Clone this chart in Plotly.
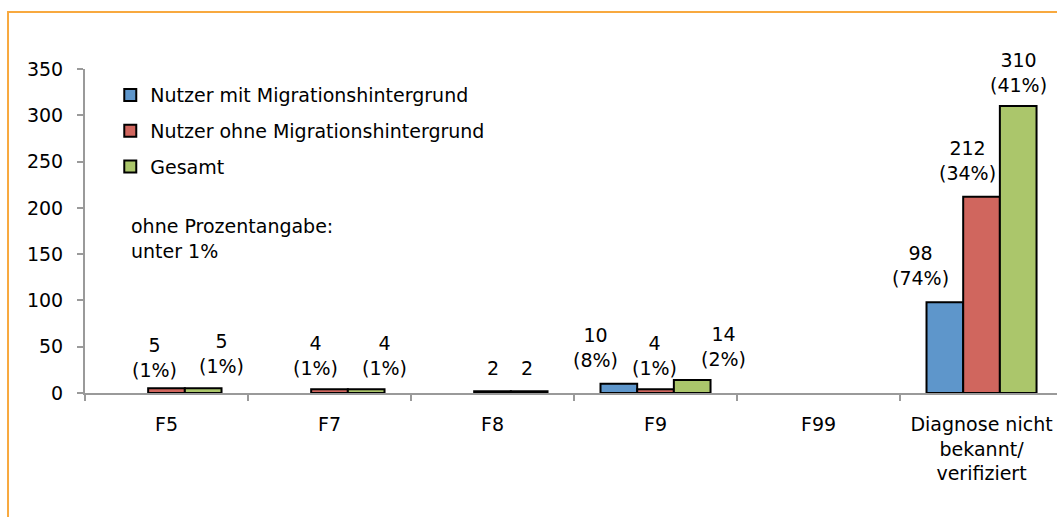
import plotly.graph_objects as go

categories = ["F5", "F7", "F8", "F9", "F99", "Diagnose nicht<br>bekannt/<br>verifiziert"]
series_names = ["Nutzer mit Migrationshintergrund", "Nutzer ohne Migrationshintergrund", "Gesamt"]
mit = [0, 0, 0, 10, 0, 98]
ohne = [5, 4, 2, 4, 0, 212]
gesamt = [5, 4, 2, 14, 0, 310]
pct_mit = [None, None, None, "8%", None, "74%"]
pct_ohne = ["1%", "1%", None, "1%", None, "34%"]
pct_gesamt = ["1%", "1%", None, "2%", None, "41%"]
y_ticks = [0, 50, 100, 150, 200, 250, 300, 350]
note_text = "ohne Prozentangabe:<br>unter 1%"

# styling
colors = ["#5E96CB", "#D0665E", "#ABC66B"]
FONT = "DejaVu Sans"
FS = 19
BARGAP = 0.325
# per-label pixel nudges (dx, dy) mimicking the original label placement
label_nudge = [
    [(0, 0), (0, 0), (0, 0), (-23, 36), (0, 0), (-24, 37)],
    [(-12, 31), (-14, 34), (0, 23), (-1, 34), (0, 0), (-14, 36)],
    [(18, 35), (18, 34), (-2, 23), (31, 34), (0, 0), (0, 34)],
]

values = [mit, ohne, gesamt]
pcts = [pct_mit, pct_ohne, pct_gesamt]

fig = go.Figure()
for k in range(3):
    fig.add_trace(go.Bar(
        x=categories, y=[v if v else None for v in values[k]], name=series_names[k],
        marker=dict(color=colors[k], line=dict(color="black", width=2)),
        legendgroup=str(k), hoverinfo="x+y",
    ))

barw = (1 - BARGAP) / 3
annotations = []
for k in range(3):
    for i, v in enumerate(values[k]):
        if not v:
            continue
        txt = str(v) if pcts[k][i] is None else f"{v}<br>({pcts[k][i]})"
        dx, dy = label_nudge[k][i]
        annotations.append(dict(
            x=i + (k - 1) * barw, y=v, xref="x", yref="y",
            text=txt, showarrow=False, xanchor="center", yanchor="middle",
            xshift=dx, yshift=dy, font=dict(family=FONT, size=FS, color="black"),
        ))

annotations.append(dict(
    x=0.045, y=0.477, xref="paper", yref="paper", text=note_text,
    showarrow=False, xanchor="left", yanchor="middle", align="left",
    font=dict(family=FONT, size=FS, color="black"),
))

fig.update_layout(
    width=1057, height=517,
    margin=dict(l=85, r=0, t=69, b=124),
    paper_bgcolor="white", plot_bgcolor="white",
    barmode="group", bargap=BARGAP, bargroupgap=0,
    font=dict(family=FONT, size=FS, color="black"),
    showlegend=True,
    legend=dict(
        x=0.026, y=0.978, xanchor="left", yanchor="top",
        bgcolor="rgba(0,0,0,0)", traceorder="grouped", tracegroupgap=8,
        font=dict(family=FONT, size=FS, color="black"),
    ),
    annotations=annotations,
    shapes=[dict(
        type="rect", xref="paper", yref="paper",
        x0=-0.0792, y0=-0.6, x1=1.2, y1=1.176,
        line=dict(color="#F8A93F", width=2), fillcolor="rgba(0,0,0,0)", layer="below",
    )],
)
fig.update_xaxes(
    type="category", range=[-0.5, 5.463], tickson="boundaries",
    showline=True, linecolor="#9A9A9A", linewidth=2,
    ticks="outside", ticklen=6, tickcolor="#9A9A9A", tickwidth=2,
    showgrid=False, zeroline=False, ticklabelstandoff=13,
    tickfont=dict(family=FONT, size=FS, color="black"),
)
fig.update_yaxes(
    range=[0, 350], tickvals=y_ticks,
    showline=True, linecolor="#9A9A9A", linewidth=2,
    ticks="outside", ticklen=6, tickcolor="#9A9A9A", tickwidth=2,
    showgrid=False, zeroline=False, ticklabelstandoff=10,
    tickfont=dict(family=FONT, size=FS, color="black"),
)

fig.write_html(
    "out.html",
    config={"displayModeBar": False},
    post_script="document.body.style.margin='0';document.body.style.overflow='hidden';",
)
